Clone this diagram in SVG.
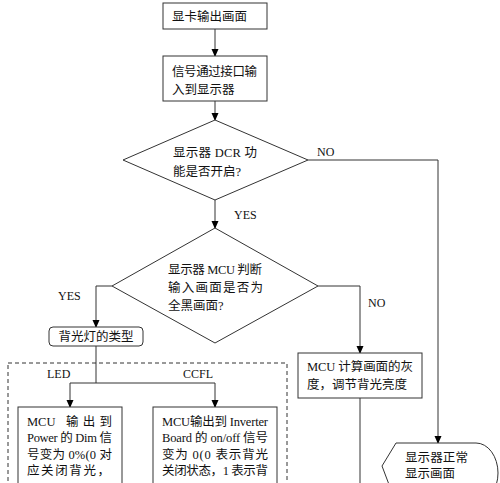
<svg xmlns="http://www.w3.org/2000/svg" width="500" height="483" viewBox="0 0 500 483">
<defs>
<marker id="ah" markerWidth="8" markerHeight="8" refX="7" refY="4" orient="auto" markerUnits="userSpaceOnUse">
<path d="M0,0.5 L8,4 L0,7.5 Z" fill="#000"/>
</marker>
<style>
.n{fill:#fff;stroke:#333;stroke-width:1}
.c{fill:none;stroke:#333;stroke-width:1}
.t{font-family:"Liberation Serif","Noto Sans CJK SC",serif;font-size:12.5px;fill:#111}
.l{font-family:"Liberation Serif",serif;font-size:12px;fill:#111}
</style>
</defs>
<rect width="500" height="483" fill="#fff"/>
<g id="connectors">
<line class="c" x1="215" y1="29" x2="215" y2="56" marker-end="url(#ah)"/>
<line class="c" x1="215" y1="101" x2="215" y2="120" marker-end="url(#ah)"/>
<line class="c" x1="215" y1="200" x2="215" y2="228" marker-end="url(#ah)"/>
<polyline class="c" points="308,160 438,160 438,443" marker-end="url(#ah)"/>
<polyline class="c" points="112,286 96,286 96,327" marker-end="url(#ah)"/>
<polyline class="c" points="318,286 360,286 360,353" marker-end="url(#ah)"/>
<polyline class="c" points="96,346 96,383"/>
<polyline class="c" points="70,383 215,383"/>
<line class="c" x1="70" y1="383" x2="70" y2="407" marker-end="url(#ah)"/>
<line class="c" x1="215" y1="383" x2="215" y2="407" marker-end="url(#ah)"/>
<line class="c" x1="360" y1="398" x2="360" y2="483"/>
<rect x="8" y="363" width="279" height="130" fill="none" stroke="#333" stroke-width="1" stroke-dasharray="4,3"/>
<text class="l" x="317" y="156">NO</text>
<text class="l" x="234" y="219">YES</text>
<text class="l" x="58" y="300">YES</text>
<text class="l" x="368" y="307">NO</text>
<text class="l" x="47" y="378">LED</text>
<text class="l" x="183" y="378">CCFL</text>
</g>
<g id="n1">
<rect class="n" x="163" y="3" width="104" height="26"/>
<text class="t" x="172" y="20.5">显卡输出画面</text>
</g>
<g id="n2">
<rect class="n" x="163" y="56" width="104" height="45"/>
<text class="t" x="172" y="75.5" textLength="85" lengthAdjust="spacing">信号通过接口输</text>
<text class="t" x="172" y="93.5">入到显示器</text>
</g>
<g id="d1">
<polygon class="n" points="215,120 308,160 215,200 123,160"/>
<text class="t" x="173" y="157" textLength="84" lengthAdjust="spacing">显示器 DCR 功</text>
<text class="t" x="173" y="176">能是否开启?</text>
</g>
<g id="d2">
<polygon class="n" points="215,228 318,286 215,343 112,286"/>
<text class="t" x="168" y="274" textLength="94" lengthAdjust="spacing">显示器 MCU 判断</text>
<text class="t" x="168" y="292" textLength="95" lengthAdjust="spacing">输入画面是否为</text>
<text class="t" x="168" y="310">全黑画面?</text>
</g>
<g id="n3">
<rect class="n" x="49" y="327" width="94" height="19" rx="4"/>
<text class="t" x="96" y="341" text-anchor="middle">背光灯的类型</text>
</g>
<g id="n4">
<rect class="n" x="298" y="353" width="124" height="45"/>
<text class="t" x="307" y="371" textLength="106" lengthAdjust="spacing">MCU 计算画面的灰</text>
<text class="t" x="307" y="389" textLength="100" lengthAdjust="spacing">度，调节背光亮度</text>
</g>
<g id="n5">
<rect class="n" x="18" y="407" width="104" height="90"/>
<text class="t" x="27" y="426">MCU</text>
<text class="t" x="66" y="426" textLength="46" lengthAdjust="spacing">输出到</text>
<text class="t" x="27" y="442" textLength="85" lengthAdjust="spacing">Power 的 Dim 信</text>
<text class="t" x="27" y="459" textLength="85" lengthAdjust="spacing">号变为 0%(0 对</text>
<text class="t" x="27" y="475" textLength="83" lengthAdjust="spacing">应关闭背光，</text>
</g>
<g id="n6">
<rect class="n" x="153" y="407" width="124" height="90"/>
<text class="t" x="162" y="426" textLength="106" lengthAdjust="spacing">MCU输出到 Inverter</text>
<text class="t" x="162" y="442" textLength="106" lengthAdjust="spacing">Board 的 on/off 信号</text>
<text class="t" x="162" y="459" textLength="106" lengthAdjust="spacing">变为 0(0 表示背光</text>
<text class="t" x="162" y="475" textLength="106" lengthAdjust="spacing">关闭状态，1 表示背</text>
</g>
<g id="n7">
<path class="n" d="M382,466 L396,443 L476,443 A22,30 0 0 1 476,503 L396,503 L382,466"/>
<text class="t" x="405" y="462" textLength="63" lengthAdjust="spacing">显示器正常</text>
<text class="t" x="405" y="478">显示画面</text>
</g>
</svg>
